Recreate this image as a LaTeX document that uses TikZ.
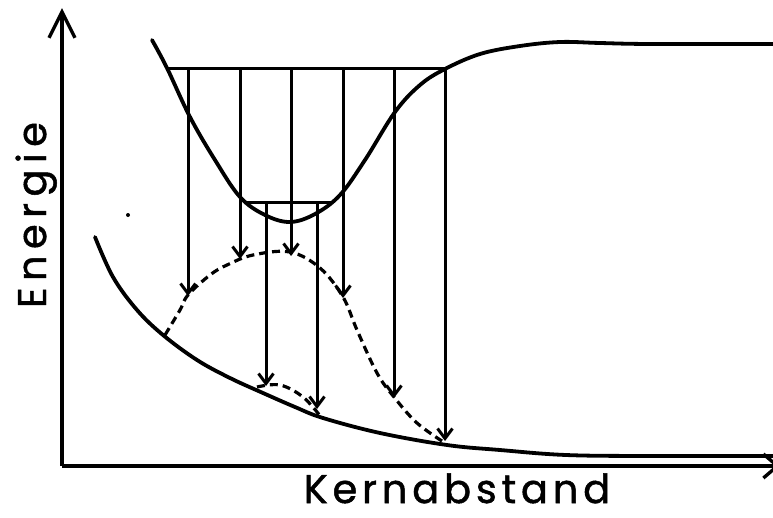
\documentclass[tikz,border=0pt]{standalone}
\usepackage{fontspec}
\setmainfont{Poppins}
\usetikzlibrary{arrows.meta}
\tikzset{
  curve/.style={line width=3.8pt, line cap=round, line join=round},
  dashcurve/.style={line width=3.2pt, dash pattern=on 8pt off 5pt},
  level/.style={line width=3pt},
  trans/.style={line width=3pt, -{Straight Barb[length=10pt,width=15pt]}},
  axis/.style={line width=3.4pt},
  lbl/.style={font=\fontsize{40}{40}\selectfont\addfontfeatures{LetterSpace=12,FakeBold=1.2}, inner sep=0pt},
}
\begin{document}
\begin{tikzpicture}[x=1pt,y=-1pt]
\useasboundingbox (0,0) rectangle (773,517);
% axes
\coordinate (O) at (62,466);
\coordinate (ytop) at (62,8);
\coordinate (xend) at (780,466);
\draw[axis, -{Straight Barb[length=26pt,width=26pt]}] (O) -- (ytop);
\draw[axis, -{Straight Barb[length=14pt,width=24pt]}] (O) -- (xend);
% upper potential curve
\draw[curve] plot[smooth, tension=0.6] coordinates {(152,40) (167,68) (190,117) (215,160) (240,197) (265,215) (290,222) (315,214) (340,195) (365,160) (395,112) (420,85) (445,69) (480,54) (520,46) (560,42) (600,43) (650,44) (773,44)};
% lower potential curve
\draw[curve] plot[smooth, tension=0.6] coordinates {(95,237) (113,277) (137,310) (163,335) (197,360) (230,378) (263,393) (295,407) (323,418) (380,433) (447,445) (500,450) (566,455) (650,456) (773,456)};
% dashed curves
\draw[dashcurve] plot[smooth, tension=0.6] coordinates {(165,335) (180,310) (188,295) (210,275) (227,265) (253,255) (290,252) (320,268) (343,297) (357,330) (377,373) (394,397) (417,423) (445,443)};
\draw[dashcurve] plot[smooth, tension=0.6] coordinates {(257,387) (280,385) (303,397) (321,417)};
% vibrational levels
\coordinate (L1a) at (167,68);
\coordinate (L1b) at (445,68);
\coordinate (L2a) at (245,202);
\coordinate (L2b) at (333,202);
\draw[level] (L1a) -- (L1b);
\draw[level] (L2a) -- (L2b);
% transitions
\foreach \x/\y in {188/296, 240/259, 291/256, 343/298, 394/398, 445/441}
  \draw[trans] (\x,68) -- (\x,\y);
\foreach \x/\y in {266/386, 317/409}
  \draw[trans] (\x,202) -- (\x,\y);
% stray dot
\fill (128,215) circle (2pt);
% labels
\node[lbl, rotate=90, anchor=base] (E) at (46,215) {\addfontfeatures{LetterSpace=16}Energie};
\node[lbl, anchor=base, text depth=0pt] (K) at (457,503) {Kernabstand};
\end{tikzpicture}
\end{document}
